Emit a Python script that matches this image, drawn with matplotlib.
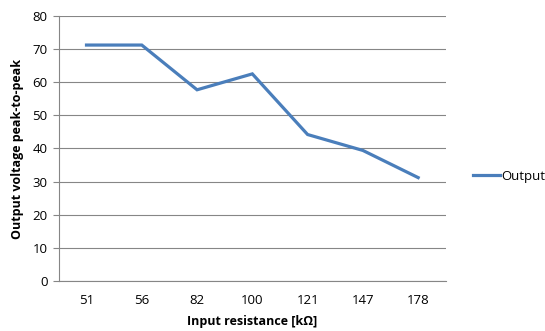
import matplotlib
matplotlib.use("Agg")
import matplotlib.pyplot as plt

categories = ["51", "56", "82", "100", "121", "147", "178"]
output_vals = [71.2, 71.2, 57.7, 62.5, 44.2, 39.4, 31.2]
yticks = [0, 10, 20, 30, 40, 50, 60, 70, 80]

plt.rcParams['font.family'] = ['Open Sans', 'DejaVu Sans']

fig = plt.figure(figsize=(5.45, 3.31), dpi=100)
ax = fig.add_axes([0.108, 0.151, 0.710, 0.801])
x = list(range(len(categories)))
ax.plot(x, output_vals, color="#4A7EBB", linewidth=2.3, label="Output",
        solid_joinstyle="miter")
ax.set_xlim(-0.5, len(categories) - 0.5)
ax.set_ylim(0, 80)
ax.set_yticks(yticks)
ax.set_xticks(x)
ax.set_xticklabels(categories)
ax.yaxis.grid(True, color="#868686", linewidth=0.8)
ax.set_axisbelow(True)
for s in ["top", "right"]:
    ax.spines[s].set_visible(False)
ax.spines["left"].set_color("#868686")
ax.spines["bottom"].set_color("#868686")
ax.tick_params(axis="y", length=4, color="#868686", labelsize=9.5, pad=4)
ax.tick_params(axis="x", length=0, labelsize=9.5, pad=9)
ax.set_xlabel("Input resistance [kΩ]", fontsize=9, fontweight="bold", labelpad=6)
ax.set_ylabel("Output voltage peak-to-peak", fontsize=9, fontweight="bold", labelpad=6)
leg = ax.legend(loc="center left", bbox_to_anchor=(1.04, 0.395), frameon=False,
                fontsize=9.5, handlelength=2.0, handletextpad=0.1)
fig.savefig("out.png", dpi=100, facecolor="white")
